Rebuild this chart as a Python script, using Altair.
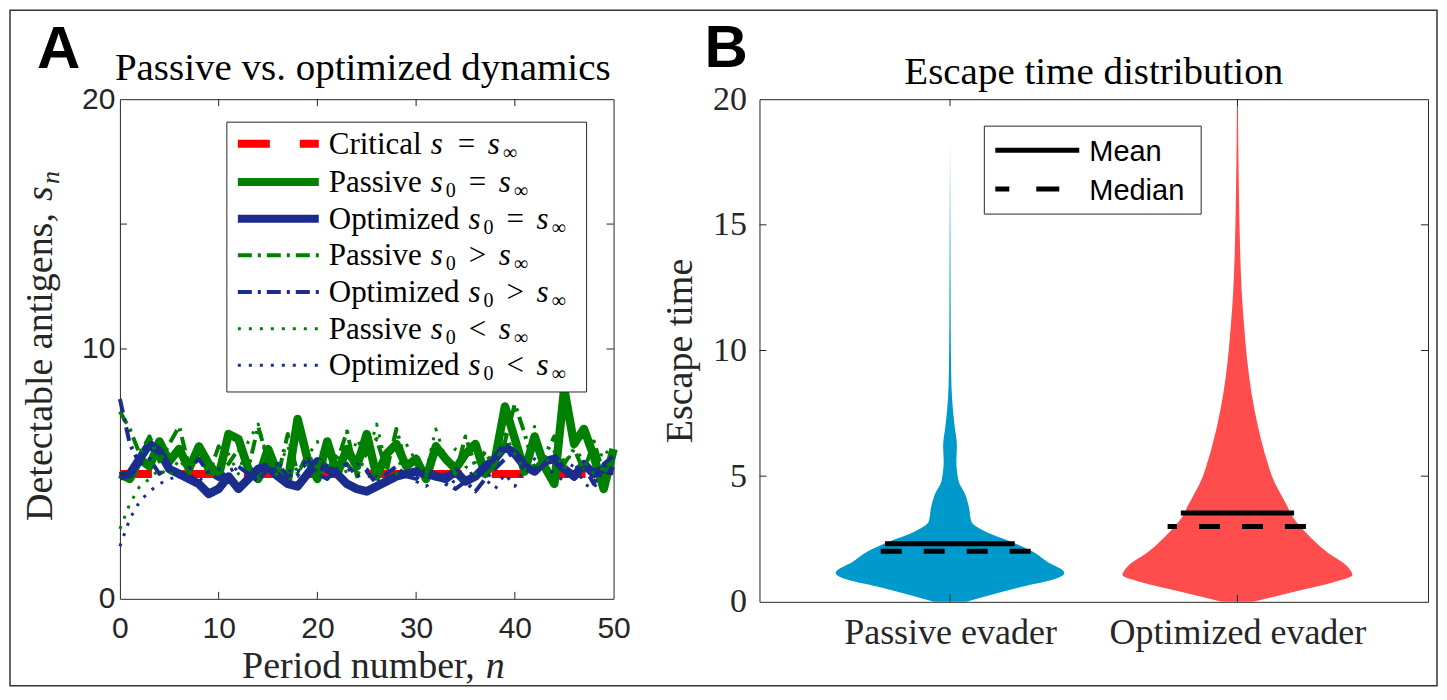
import altair as alt
import pandas as pd

# ---------------- Panel A data ----------------
periods = list(range(51))
critical_level = [5.0, 5.0]
critical_periods = [0, 50]
passive_eq = [5.0, 4.8, 5.6, 5.3, 6.3, 5.5, 6.0, 5.2, 6.1, 5.4, 4.9, 6.6, 6.4, 5.2, 4.8, 6.0, 5.0,
              4.7, 7.2, 5.6, 4.8, 6.3, 5.0, 6.0, 5.3, 6.6, 4.9, 5.8, 6.2, 5.3, 5.6, 4.8, 6.1, 5.6,
              5.2, 5.8, 6.2, 5.0, 5.6, 7.7, 6.4, 5.1, 6.5, 5.3, 4.6, 8.4, 6.2, 6.8, 5.7, 4.4, 6.0]
optimized_eq = [4.9, 5.0, 5.6, 6.2, 5.9, 5.2, 5.0, 4.8, 4.6, 4.2, 4.4, 4.9, 4.4, 4.8, 5.2, 5.3, 4.9,
                4.6, 4.5, 5.0, 5.5, 5.2, 5.0, 4.6, 4.4, 4.3, 4.5, 4.7, 4.9, 5.0, 5.1, 5.0, 4.9, 4.8,
                5.1, 4.7, 4.9, 5.3, 5.6, 6.1, 5.8, 5.3, 5.1, 5.5, 5.6, 5.2, 4.9, 5.4, 5.0, 5.2, 5.1]
passive_hi = [7.5, 6.8, 5.8, 6.5, 5.5, 6.2, 6.9, 5.3, 5.8, 5.0, 6.1, 5.4, 6.0, 5.2, 6.9, 5.5, 4.9,
              6.6, 5.0, 5.8, 5.2, 6.1, 5.5, 6.7, 4.9, 5.9, 6.4, 5.1, 6.8, 5.3, 5.7, 4.9, 6.2, 5.6,
              5.0, 6.5, 5.3, 5.9, 5.2, 6.3, 7.8, 6.6, 5.2, 5.7, 6.5, 5.4, 6.0, 5.1, 6.3, 5.0, 5.8]
optimized_hi = [8.0, 6.2, 5.4, 5.6, 5.0, 5.3, 4.9, 5.2, 5.6, 5.0, 4.8, 5.1, 5.3, 5.0, 4.7, 5.2, 5.4,
                4.9, 5.1, 5.6, 5.0, 4.8, 5.2, 5.4, 4.9, 5.1, 4.6, 5.0, 5.3, 4.9, 4.8, 5.2, 5.0, 4.6,
                4.4, 4.7, 4.3, 4.8, 5.2, 5.6, 5.9, 5.5, 5.0, 5.4, 5.8, 5.2, 4.8, 5.3, 4.6, 5.4, 5.7]
passive_lo = [2.8, 3.8, 4.5, 4.8, 5.2, 4.9, 5.6, 5.0, 6.2, 5.4, 5.1, 5.8, 5.0, 6.3, 7.0, 5.5, 5.2,
              6.1, 5.0, 5.7, 6.3, 5.2, 5.8, 5.0, 6.4, 5.6, 7.0, 5.3, 5.0, 6.2, 5.5, 5.1, 6.8, 5.6,
              6.0, 5.3, 5.0, 5.9, 5.3, 6.6, 5.8, 5.1, 6.9, 5.4, 5.9, 5.2, 6.1, 5.5, 5.0, 6.0, 5.6]
optimized_lo = [2.1, 3.2, 3.9, 4.3, 4.6, 4.8, 4.9, 5.0, 4.7, 5.1, 5.2, 4.9, 5.3, 5.0, 4.8, 5.1, 5.4,
                5.2, 4.9, 5.5, 5.3, 5.0, 4.8, 5.1, 5.4, 5.2, 4.9, 4.6, 4.9, 5.2, 4.7, 4.5, 4.8, 5.0,
                4.6, 4.9, 5.1, 4.8, 4.4, 5.0, 4.5, 5.2, 5.6, 5.3, 5.0, 4.7, 5.5, 4.6, 4.4, 5.2, 5.8]
tickA_x = [10, 20, 30, 40]
tickA_y = [5, 10, 15]

legend_words = ["Critical", "Passive", "Optimized", "Passive", "Optimized", "Passive", "Optimized"]
legend_subs = ["", "0", "0", "0", "0", "0", "0"]
legend_ops = ["=", "=", "=", ">", ">", "<", "<"]

# ---------------- Panel B data ----------------
evaders = ["Passive evader", "Optimized evader"]
passive_t = [0, 0.3, 0.6, 0.95, 1.15, 1.6, 2.0, 2.35, 2.8, 3.2, 3.75, 4.3, 4.8, 5.6, 6.2, 7.0, 7.65,
             8.6, 10.0, 12.0, 15.0, 18.4]
passive_hw = [0.057, 0.15, 0.25, 0.375, 0.398, 0.337, 0.287, 0.222, 0.123, 0.074, 0.066, 0.052,
              0.030, 0.022, 0.024, 0.016, 0.010, 0.005, 0.003, 0.002, 0.001, 0.0]
optimized_t = [0, 0.4, 0.8, 1.07, 1.4, 2.0, 2.7, 3.35, 3.9, 5.0, 5.6, 7.0, 8.3, 9.7, 11.0, 12.3,
               13.7, 16.4, 20.0]
optimized_hw = [0.054, 0.197, 0.34, 0.40, 0.383, 0.309, 0.243, 0.194, 0.169, 0.12, 0.103, 0.071,
                0.049, 0.033, 0.023, 0.015, 0.010, 0.005, 0.0016]
mean_times = [2.31, 3.53]
median_times = [2.01, 3.0]
mean_extent = [[-0.226, 0.225], [-0.197, 0.197]]
median_extent = [[-0.241, 0.284], [-0.243, 0.245]]
tickB_y = [5, 10, 15]

# ---------------- styles ----------------
SERIF = "Liberation Serif"
SANS = "Liberation Sans"
AX = "#262626"
GREEN = "#008000"
NAVY = "#1A2D8C"
RED = "#FF0000"
VBLUE = "#0099CC"
VRED = "#FF4D4D"

WA, HA = 494, 500
WB, HB = 669, 503
one = pd.DataFrame({"k": [0]})

# ================= Panel A =================
xA = alt.X("n:Q", scale=alt.Scale(domain=[0, 50], nice=False, zero=False),
           axis=alt.Axis(values=[0, 10, 20, 30, 40, 50], title=None, grid=False, ticks=False,
                         tickSize=0, domain=False, labelFont=SANS, labelFontSize=30,
                         labelColor=AX, labelPadding=15, labelFlush=False))
yA = alt.Y("s:Q", scale=alt.Scale(domain=[0, 20], nice=False, zero=False),
           axis=alt.Axis(values=[0, 10, 20], title=None, grid=False, ticks=False, tickSize=0,
                         domain=False, labelFont=SANS, labelFontSize=30, labelColor=AX,
                         labelPadding=5, labelFlush=False))


def line_layer(xs, ys, color, width, dash=None):
    df = pd.DataFrame({"n": xs, "s": ys})
    kw = dict(color=color, strokeWidth=width, strokeJoin="round")
    if dash:
        kw["strokeDash"] = dash
        kw["strokeCap"] = "butt"
    return alt.Chart(df).mark_line(**kw).encode(x=xA, y=yA)


DASH_CRIT = [32, 30]
DASHDOT = [14, 6, 3, 6]
DOT = [3, 8]

series_style = [
    (critical_periods, critical_level, RED, 8, DASH_CRIT),
    (periods, passive_eq, GREEN, 8.5, None),
    (periods, optimized_eq, NAVY, 8.5, None),
    (periods, passive_hi, GREEN, 4, DASHDOT),
    (periods, optimized_hi, NAVY, 4, DASHDOT),
    (periods, passive_lo, GREEN, 3, DOT),
    (periods, optimized_lo, NAVY, 3, DOT),
]
layersA = [line_layer(*s) for s in series_style]

# inward ticks
tx = pd.DataFrame({"n": tickA_x})
ty = pd.DataFrame({"s": tickA_y})
layersA += [
    alt.Chart(tx).mark_rule(color=AX, strokeWidth=1).encode(x=xA, y=alt.value(0), y2=alt.value(7)),
    alt.Chart(tx).mark_rule(color=AX, strokeWidth=1).encode(x=xA, y=alt.value(HA), y2=alt.value(HA - 7)),
    alt.Chart(ty).mark_rule(color=AX, strokeWidth=1).encode(y=yA, x=alt.value(0), x2=alt.value(7)),
    alt.Chart(ty).mark_rule(color=AX, strokeWidth=1).encode(y=yA, x=alt.value(WA), x2=alt.value(WA - 7)),
]

# legend box
layersA.append(alt.Chart(one).mark_rect(fill="white", stroke=AX, strokeWidth=1).encode(
    x=alt.value(107), x2=alt.value(467), y=alt.value(23), y2=alt.value(293)))

row_y = [44.7, 83, 119.7, 156.3, 193, 229.7, 266.3]
for (xs, ys, color, width, dash), yy in zip(series_style, row_y):
    kw = dict(color=color, strokeWidth=min(width, 8))
    if dash:
        kw["strokeDash"] = dash
        kw["strokeCap"] = "butt"
    layersA.append(alt.Chart(one).mark_rule(**kw).encode(
        x=alt.value(118), x2=alt.value(199), y=alt.value(yy)))

# legend text (built from the label arrays)
FS, SFS = 31, 20
WORD_EM = {"Critical": 3.0, "Passive": 3.0, "Optimized": 4.222}
roman, italic = [], []
for w, sb, op, yy in zip(legend_words, legend_subs, legend_ops, row_y):
    base = yy + 10
    x0 = 209
    roman.append({"px": x0, "py": base, "txt": w, "size": FS})
    xs_ = x0 + WORD_EM[w] * FS + 9
    italic.append({"px": xs_, "py": base, "txt": "s", "size": FS})
    xo = xs_ + 15
    if sb:
        roman.append({"px": xo, "py": base + 5, "txt": sb, "size": SFS})
        xo += 11
    xo += 12
    roman.append({"px": xo, "py": base, "txt": op, "size": FS})
    xo += 18 + 12
    italic.append({"px": xo, "py": base, "txt": "s", "size": FS})
    roman.append({"px": xo + 15, "py": base + 5, "txt": "\u221e", "size": SFS})

for rows, style in ((roman, "normal"), (italic, "italic")):
    layersA.append(alt.Chart(pd.DataFrame(rows)).mark_text(
        align="left", baseline="alphabetic", font=SERIF, fontStyle=style, color="black").encode(
        x=alt.X("px:Q", scale=None, axis=None), y=alt.Y("py:Q", scale=None, axis=None),
        text="txt:N", size=alt.Size("size:Q", scale=None, legend=None)))

# titles / labels
layersA += [
    alt.Chart(one).mark_text(text="Passive vs. optimized dynamics", font=SERIF, fontSize=39,
                             align="center", baseline="alphabetic", color="black").encode(
        x=alt.value(243), y=alt.value(-19)),
    alt.Chart(one).mark_text(text="A", font=SANS, fontSize=60, fontWeight="bold",
                             align="left", baseline="alphabetic", color="black").encode(
        x=alt.value(-83), y=alt.value(-31)),
    alt.Chart(one).mark_text(text="Period number,", font=SERIF, fontSize=38, align="right",
                             baseline="alphabetic", color=AX).encode(x=alt.value(355), y=alt.value(579)),
    alt.Chart(one).mark_text(text="n", font=SERIF, fontSize=38, fontStyle="italic", align="left",
                             baseline="alphabetic", color=AX).encode(x=alt.value(366), y=alt.value(579)),
    alt.Chart(one).mark_text(text="Detectable antigens,", font=SERIF, fontSize=38, angle=270,
                             align="right", baseline="alphabetic", color=AX).encode(
        x=alt.value(-68), y=alt.value(114)),
    alt.Chart(one).mark_text(text="s", font=SERIF, fontSize=38, fontStyle="italic", angle=270,
                             align="left", baseline="alphabetic", color=AX).encode(
        x=alt.value(-68), y=alt.value(102)),
    alt.Chart(one).mark_text(text="n", font=SERIF, fontSize=26, fontStyle="italic", angle=270,
                             align="left", baseline="alphabetic", color=AX).encode(
        x=alt.value(-61), y=alt.value(85)),
    # outer figure frame
    alt.Chart(one).mark_rect(filled=False, stroke="#333333", strokeWidth=1.5).encode(
        x=alt.value(-110), x2=alt.value(1318), y=alt.value(-89), y2=alt.value(587)),
]

panelA = alt.layer(*layersA).properties(width=WA, height=HA)

# ================= Panel B =================
label_expr = "['" + evaders[0] + "', '" + evaders[1] + "'][datum.value - 1]"
xB = alt.X("lo:Q", scale=alt.Scale(domain=[0.337, 2.663], nice=False, zero=False),
           axis=alt.Axis(values=[1, 2], labelExpr=label_expr, title=None, grid=False, ticks=False,
                         tickSize=0, domain=False, labelFont=SERIF, labelFontSize=36,
                         labelColor=AX, labelPadding=14, labelFlush=False, labelLimit=600))
yB = alt.Y("t:Q", scale=alt.Scale(domain=[0, 20], nice=False, zero=False),
           axis=alt.Axis(values=[0, 5, 10, 15, 20], title=None, grid=False, ticks=False, tickSize=0,
                         domain=False, labelFont=SERIF, labelFontSize=34, labelColor=AX,
                         labelPadding=13, labelFlush=False))

layersB = []
for i, (ts, hws, col) in enumerate(((passive_t, passive_hw, VBLUE), (optimized_t, optimized_hw, VRED))):
    pos = i + 1
    df = pd.DataFrame({"t": ts, "lo": [pos - h for h in hws], "hi": [pos + h for h in hws]})
    layersB.append(alt.Chart(df).mark_area(orient="horizontal", color=col, interpolate="monotone",
                                           opacity=1).encode(y=yB, x=xB, x2="hi:Q"))

for i in range(2):
    pos = i + 1
    dm = pd.DataFrame({"t": [mean_times[i]], "lo": [pos + mean_extent[i][0]], "hi": [pos + mean_extent[i][1]]})
    dd = pd.DataFrame({"t": [median_times[i]], "lo": [pos + median_extent[i][0]], "hi": [pos + median_extent[i][1]]})
    layersB.append(alt.Chart(dm).mark_rule(color="black", strokeWidth=5).encode(y=yB, x=xB, x2="hi:Q"))
    layersB.append(alt.Chart(dd).mark_rule(color="black", strokeWidth=5, strokeDash=[21, 22],
                                           strokeDashOffset=[0, 11.6][i]).encode(y=yB, x=xB, x2="hi:Q"))

tyb = pd.DataFrame({"t": tickB_y})
txb = pd.DataFrame({"lo": [1, 2]})
layersB += [
    alt.Chart(tyb).mark_rule(color=AX, strokeWidth=1).encode(y=yB, x=alt.value(0), x2=alt.value(7)),
    alt.Chart(tyb).mark_rule(color=AX, strokeWidth=1).encode(y=yB, x=alt.value(WB), x2=alt.value(WB - 7)),
    alt.Chart(txb).mark_rule(color=AX, strokeWidth=1).encode(x=xB, y=alt.value(0), y2=alt.value(7)),
    alt.Chart(txb).mark_rule(color=AX, strokeWidth=1).encode(x=xB, y=alt.value(HB), y2=alt.value(HB - 7)),
    # legend
    alt.Chart(one).mark_rect(fill="white", stroke=AX, strokeWidth=1).encode(
        x=alt.value(225), x2=alt.value(442), y=alt.value(27), y2=alt.value(115)),
    alt.Chart(one).mark_rule(color="black", strokeWidth=5).encode(
        x=alt.value(236), x2=alt.value(320), y=alt.value(51)),
    alt.Chart(one).mark_rule(color="black", strokeWidth=5, strokeDash=[23, 27], strokeCap="butt",
                             strokeDashOffset=9).encode(
        x=alt.value(236), x2=alt.value(300), y=alt.value(90)),
    alt.Chart(one).mark_text(text="Mean", font=SANS, fontSize=29, align="left",
                             baseline="alphabetic", color="black").encode(x=alt.value(330), y=alt.value(62)),
    alt.Chart(one).mark_text(text="Median", font=SANS, fontSize=29, align="left",
                             baseline="alphabetic", color="black").encode(x=alt.value(330), y=alt.value(101)),
    # titles
    alt.Chart(one).mark_text(text="Escape time distribution", font=SERIF, fontSize=39,
                             align="center", baseline="alphabetic", color="black").encode(
        x=alt.value(WB / 2), y=alt.value(-15)),
    alt.Chart(one).mark_text(text="B", font=SANS, fontSize=60, fontWeight="bold",
                             align="left", baseline="alphabetic", color="black").encode(
        x=alt.value(-55), y=alt.value(-32)),
    alt.Chart(one).mark_text(text="Escape time", font=SERIF, fontSize=38, angle=270,
                             align="center", baseline="alphabetic", color=AX).encode(
        x=alt.value(-68), y=alt.value(252)),
]

panelB = alt.layer(*layersB).properties(width=WB, height=HB)

chart = alt.hconcat(panelA, panelB, spacing=146, bounds="flush").properties(
    padding=0, background="white"
).configure_view(stroke=AX, strokeWidth=1)

chart.save("out.html", embed_options={"renderer": "svg", "actions": False})
